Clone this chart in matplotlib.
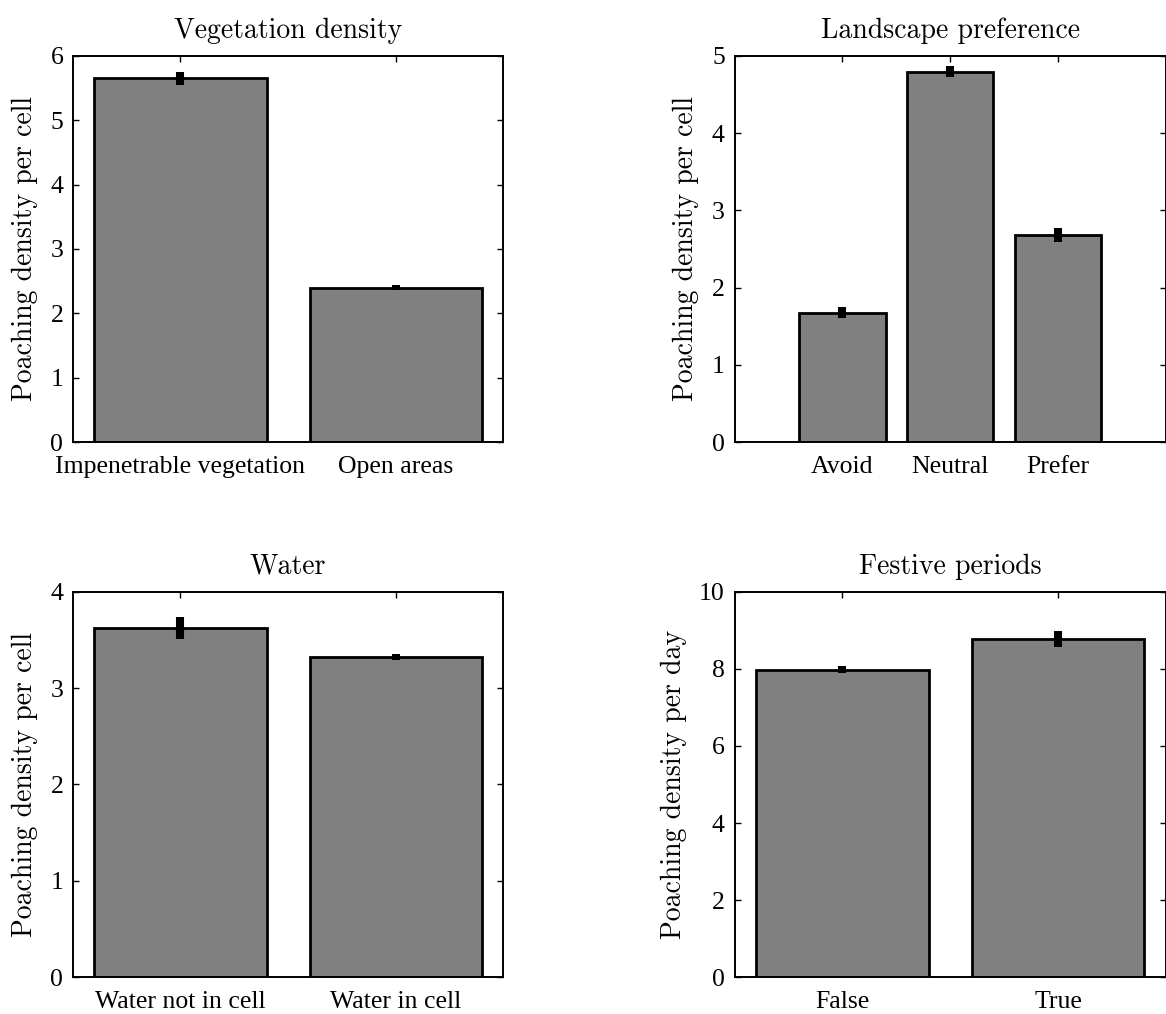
import matplotlib
matplotlib.use('Agg')
import matplotlib.pyplot as plt
from matplotlib.ticker import MultipleLocator

# valores
veg_labels = ['Impenetrable vegetation', 'Open areas']
veg_values = [5.65, 2.395]
veg_errors = [0.098, 0.04]

land_labels = ['Avoid', 'Neutral', 'Prefer']
land_values = [1.673, 4.795, 2.677]
land_errors = [0.071, 0.071, 0.091]

water_labels = ['Water not in cell', 'Water in cell']
water_values = [3.62, 3.326]
water_errors = [0.114, 0.03]

fest_labels = ['False', 'True']
fest_values = [7.97, 8.765]
fest_errors = [0.091, 0.207]

plt.rcParams['font.family'] = ['Liberation Serif', 'DejaVu Serif']

fig = plt.figure(figsize=(11.66, 10.14), dpi=100)


def bar_panel(rect, labels, values, errors, title, ylabel, ymax, ystep, xlim):

    ax = fig.add_axes(rect)
    x = list(range(1, len(labels) + 1))

    ax.bar(x, values, width=0.8, color='#808080', edgecolor='black', linewidth=2.0, zorder=1)
    ax.errorbar(x, values, yerr=errors, fmt='none', ecolor='black', elinewidth=5.8, capsize=0, zorder=3)

    ax.set_xlim(xlim)
    ax.set_ylim(0, ymax)
    ax.set_xticks(x)
    ax.set_xticklabels(labels)
    ax.yaxis.set_major_locator(MultipleLocator(ystep))

    # ticks para dentro, estilo matlab
    ax.set_axisbelow(True)
    ax.tick_params(axis='y', which='both', direction='in', left=True, right=True, length=4, width=1,
                   labelsize=18.5, pad=7)
    ax.tick_params(axis='x', which='both', direction='in', bottom=False, top=True, length=4, width=1,
                   labelsize=18.5, pad=10)

    for s in ax.spines.values():
        s.set_linewidth(1.4)

    ax.set_title(title, family='cmr10', fontsize=20, pad=13)
    ax.set_ylabel(ylabel, family='cmr10', fontsize=20, labelpad=9)
    return ax


bar_panel([0.0626, 0.5641, 0.3688, 0.3807], veg_labels, veg_values, veg_errors,
          'Vegetation density', 'Poaching density per cell', 6, 1, (0.5, 2.5))
bar_panel([0.6300, 0.5641, 0.3700, 0.3807], land_labels, land_values, land_errors,
          'Landscape preference', 'Poaching density per cell', 5, 1, (0, 4))
bar_panel([0.0626, 0.0362, 0.3688, 0.3803], water_labels, water_values, water_errors,
          'Water', 'Poaching density per cell', 4, 1, (0.5, 2.5))
bar_panel([0.6300, 0.0362, 0.3700, 0.3803], fest_labels, fest_values, fest_errors,
          'Festive periods', 'Poaching density per day', 10, 2, (0.5, 2.5))

plt.savefig('out.png', dpi=100)
plt.close()
